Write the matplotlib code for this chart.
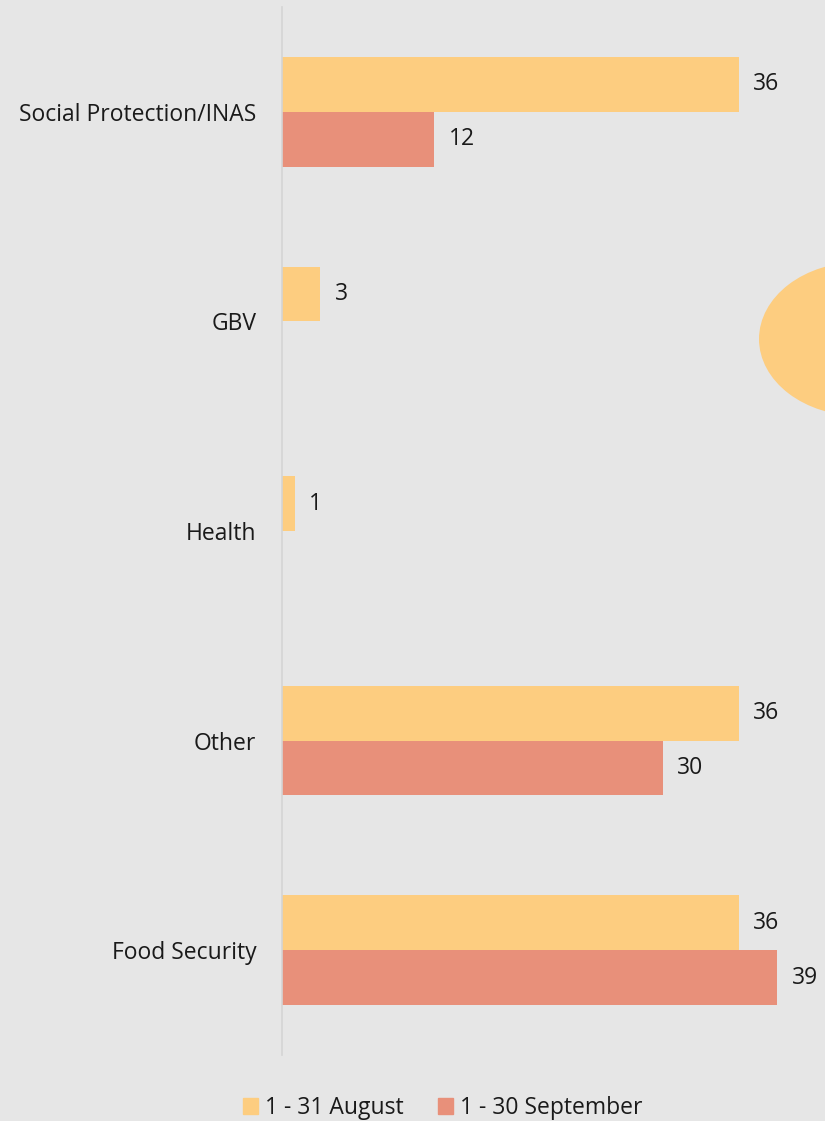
import matplotlib.pyplot as plt
import matplotlib.patches as mpatches
import numpy as np

plt.rcParams['font.family'] = ['Open Sans', 'DejaVu Sans']

categories = ['Social Protection/INAS', 'GBV', 'Health', 'Other', 'Food Security']
august = [36, 3, 1, 36, 36]
september = [12, 0, 0, 30, 39]
series_names = ['1 - 31 August', '1 - 30 September']

BG = '#e6e6e6'
C_AUG = '#fdcd80'
C_SEP = '#e8907a'
TXT = '#1a1a1a'
FS = 16.5

fig = plt.figure(figsize=(8.25, 11.21), dpi=100, facecolor=BG)

# decorative blob on the right edge
blob = mpatches.Ellipse((860 / 825, 1 - 339 / 1121), 202 / 825, 154 / 1121,
                        transform=fig.transFigure, facecolor=C_AUG,
                        edgecolor='none', zorder=0)
fig.patches.append(blob)

ax = fig.add_axes([282 / 825, 1 - 1055 / 1121, 543 / 825, 1048 / 1121])
ax.set_facecolor('none')

y = np.arange(len(categories))
h = 55 / 210
ax.barh(y - h / 2, august, height=h, color=C_AUG, label=series_names[0])
ax.barh(y + h / 2, september, height=h, color=C_SEP, label=series_names[1])

for yi, v in zip(y - h / 2, august):
    if v:
        ax.annotate(str(v), (v, yi), xytext=(10.5, 0), textcoords='offset points',
                    va='center', ha='left', fontsize=FS, color=TXT)
for yi, v in zip(y + h / 2, september):
    if v:
        ax.annotate(str(v), (v, yi), xytext=(10.5, 0), textcoords='offset points',
                    va='center', ha='left', fontsize=FS, color=TXT)

ax.set_ylim(len(categories) - 0.5, -0.5)
ax.set_xlim(0, 543 / 12.69)
ax.set_yticks(y)
ax.set_yticklabels(categories, fontsize=FS, color=TXT)
ax.tick_params(axis='y', length=0, pad=18.5)
ax.set_xticks([])
for s in ['top', 'right', 'bottom']:
    ax.spines[s].set_visible(False)
ax.spines['left'].set_color('#d4d4d4')
ax.spines['left'].set_linewidth(1.2)

handles = [mpatches.Patch(color=C_AUG), mpatches.Patch(color=C_SEP)]
fig.legend(handles, series_names, loc='center', bbox_to_anchor=(443 / 825, 1 - 1108 / 1121),
           ncol=2, frameon=False, fontsize=FS, handlelength=0.65, handleheight=0.65,
           handletextpad=0.3, columnspacing=1.5, labelcolor=TXT)

fig.savefig('out.png', dpi=100, facecolor=BG)
